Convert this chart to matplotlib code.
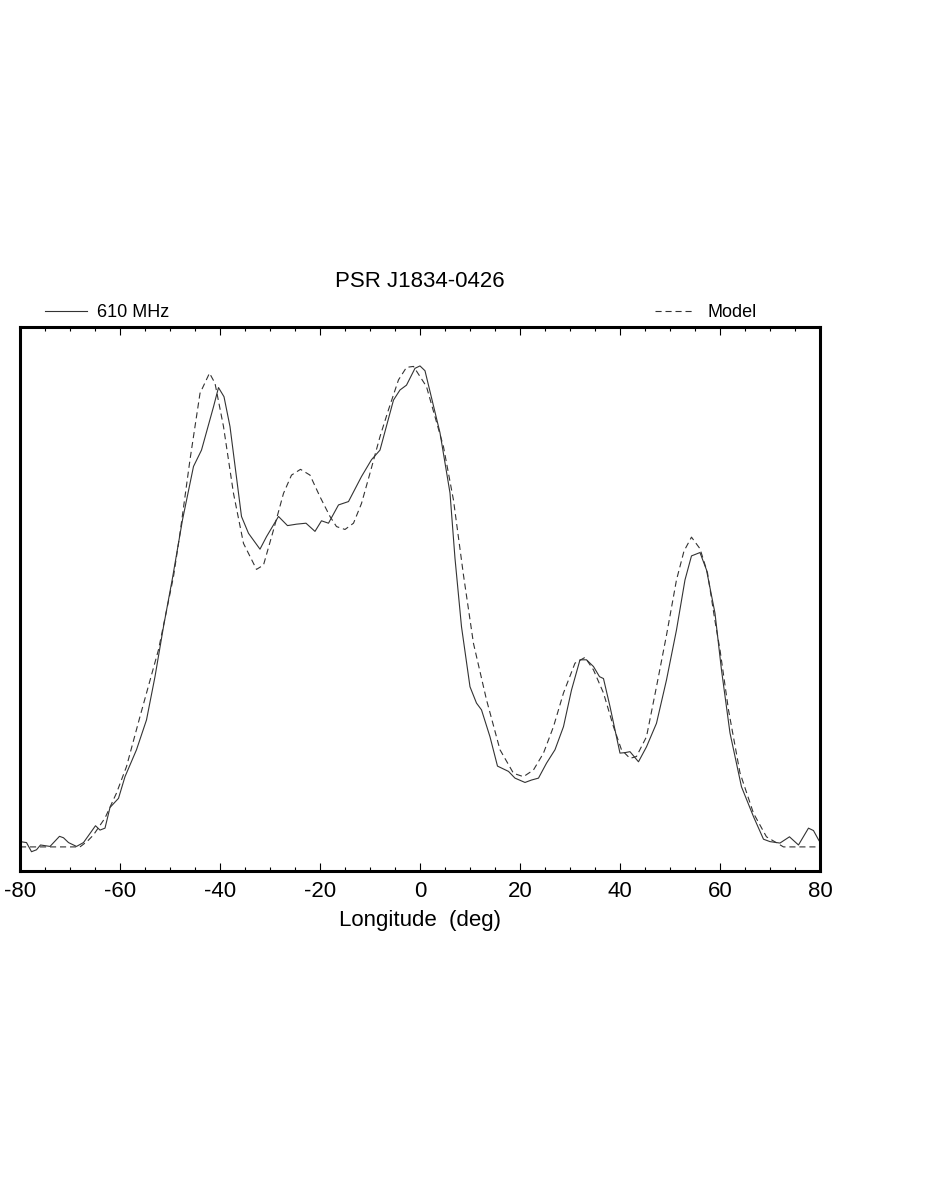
import matplotlib
matplotlib.use("Agg")
import matplotlib.pyplot as plt
from matplotlib.ticker import MultipleLocator

plt.rcParams['font.family'] = ['Liberation Sans', 'DejaVu Sans']
plt.rcParams['axes.unicode_minus'] = False

# observed 610 MHz profile (longitude in deg, normalised intensity)
obs_lon = [-80, -78.7, -77.7, -76.7, -75.9, -74, -72.1, -71.3, -70.3, -68.7, -67.3,
           -64.9, -64, -63, -62, -60.3, -59, -56.7, -54.7, -53, -51.3, -49.5, -47.5,
           -45.3, -43.7, -41.3, -40.3, -39.2, -38, -35.7, -34.3, -32, -30.7, -28.3,
           -26.5, -24.7, -22.8, -21, -19.7, -18.3, -16.3, -14.3, -11.7, -9.7, -8,
           -5.3, -4, -2.7, -1, 0, 1, 4, 6, 7, 8.3, 10, 11.3, 12.3, 14, 15.5, 17.7,
           19, 21, 22.3, 23.7, 25.3, 27, 28.7, 30.3, 32, 33.3, 34.7, 35.9, 36.7, 38,
           40, 41, 42, 43.7, 45.3, 47.3, 49.3, 51.3, 53, 54.3, 56, 57.3, 59, 60.3,
           62, 64.3, 66.7, 68.7, 70, 72, 73.9, 75.7, 77.7, 78.7, 79.7, 80]
obs_val = [0.011, 0.009, -0.01, -0.006, 0.004, 0.001, 0.022, 0.019, 0.009, 0.001, 0.009,
           0.044, 0.035, 0.039, 0.082, 0.101, 0.146, 0.202, 0.264, 0.354, 0.458, 0.559, 0.68,
           0.791, 0.825, 0.915, 0.955, 0.936, 0.874, 0.687, 0.652, 0.619, 0.645, 0.687,
           0.668, 0.671, 0.673, 0.656, 0.678, 0.673, 0.711, 0.718, 0.770, 0.805, 0.825,
           0.929, 0.950, 0.960, 0.995, 1.0, 0.99, 0.861, 0.736, 0.60, 0.458, 0.333, 0.299,
           0.285, 0.229, 0.168, 0.157, 0.143, 0.134, 0.139, 0.143, 0.174, 0.202, 0.250,
           0.326, 0.389, 0.389, 0.375, 0.354, 0.350, 0.292, 0.195, 0.196, 0.198, 0.177,
           0.208, 0.257, 0.347, 0.451, 0.555, 0.605, 0.612, 0.576, 0.486, 0.368, 0.237,
           0.125, 0.063, 0.016, 0.011, 0.008, 0.021, 0.004, 0.039, 0.034, 0.015, 0.01]

# model profile
mod_lon = [-80, -68, -66.5, -65.3, -63, -60.7, -58.7, -56, -52.3, -49.3, -48, -46, -44,
           -42.1, -41, -39.3, -37.3, -35.3, -32.7, -31.3, -29.3, -27.3, -25.7, -23.9,
           -22, -20, -18, -16.7, -15, -13.3, -11.7, -10, -8, -6.3, -4.3, -2.7, -1.3,
           1.3, 4.7, 6.7, 8.7, 10.7, 13.3, 16, 18.7, 20.7, 22.7, 24.7, 26.7, 28.7, 31,
           33, 34.7, 36.7, 38.7, 40.3, 42, 43.3, 45.3, 47.3, 49.3, 51.3, 52.8, 54.3,
           56, 57.5, 59, 60, 61.7, 64, 66.7, 69.3, 72.7, 80]
mod_val = [0.0, 0.0, 0.012, 0.025, 0.06, 0.112, 0.167, 0.271, 0.41, 0.562, 0.652, 0.805,
           0.943, 0.985, 0.964, 0.874, 0.735, 0.631, 0.577, 0.586, 0.659, 0.735, 0.773,
           0.785, 0.773, 0.728, 0.687, 0.666, 0.660, 0.673, 0.714, 0.777, 0.853, 0.909,
           0.971, 0.997, 0.999, 0.957, 0.832, 0.721, 0.565, 0.423, 0.306, 0.202, 0.153,
           0.146, 0.160, 0.195, 0.250, 0.320, 0.382, 0.394, 0.368, 0.320, 0.250, 0.202,
           0.184, 0.188, 0.229, 0.333, 0.440, 0.555, 0.615, 0.644, 0.62, 0.57, 0.47, 0.41,
           0.285, 0.154, 0.070, 0.021, 0.0, 0.0]

fig = plt.figure(figsize=(9.26, 11.99), dpi=100)
ax = fig.add_axes([0.0216, 0.2736, 0.8639, 0.4537])

l1, = ax.plot(obs_lon, obs_val, color='#333333', lw=0.8, label='610 MHz')
l2, = ax.plot(mod_lon, mod_val, color='#333333', lw=0.8, dashes=(5.5, 3.5), label='Model')

ax.set_xlim(-80, 80)
ax.set_ylim(-0.05, 1.081)
ax.xaxis.set_major_locator(MultipleLocator(20))
ax.xaxis.set_minor_locator(MultipleLocator(5))
ax.tick_params(axis='x', which='both', direction='in', top=True, width=0.8,
               labelsize=16, pad=7)
ax.tick_params(axis='x', which='major', length=6)
ax.tick_params(axis='x', which='minor', length=3)
ax.set_yticks([])
for s in ax.spines.values():
    s.set_linewidth(2.2)

ax.set_xlabel('Longitude  (deg)', fontsize=16, labelpad=6)
ax.set_title('PSR J1834-0426', fontsize=16, pad=29)

leg1 = ax.legend(handles=[l1], loc='center left', bbox_to_anchor=(0.031, 1.026),
                 frameon=False, fontsize=13, handlelength=2.35, handletextpad=0.55,
                 borderpad=0, borderaxespad=0)
ax.add_artist(leg1)
ax.legend(handles=[l2], loc='center left', bbox_to_anchor=(0.794, 1.026),
          frameon=False, fontsize=13, handlelength=2.1, handletextpad=0.8,
          borderpad=0, borderaxespad=0)

fig.savefig('out.png', dpi=100)
